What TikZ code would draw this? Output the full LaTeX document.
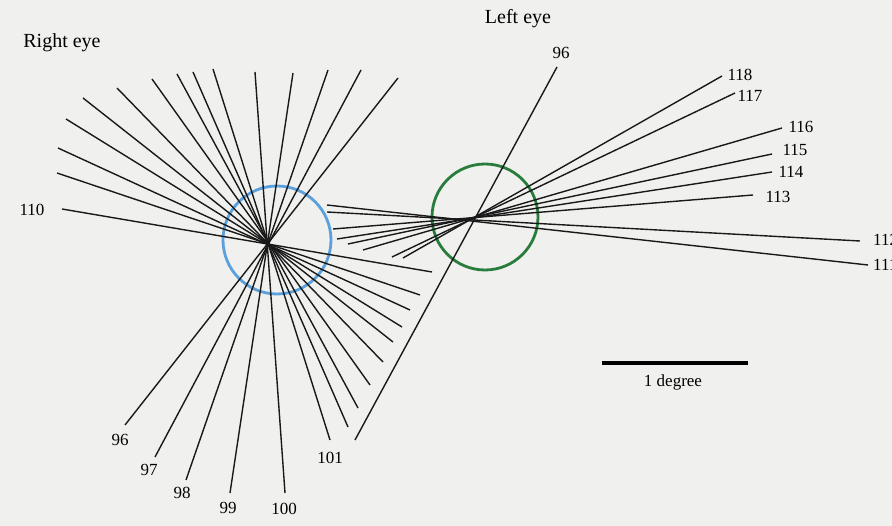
\documentclass[tikz,border=0pt]{standalone}
\usepackage{fontspec}
\setmainfont{Liberation Serif}
\definecolor{paper}{RGB}{240,240,238}
\definecolor{rblue}{RGB}{90,160,220}
\definecolor{lgreen}{RGB}{40,125,60}
\begin{document}
\begin{tikzpicture}[x=1pt,y=-1pt,
  ray/.style={draw=black!90,line width=1.4pt},
  eyecirc/.style={line width=2.8pt},
  num/.style={font=\fontsize{17}{19}\selectfont,inner sep=0pt},
  title/.style={font=\fontsize{20}{23}\selectfont,inner sep=0pt}]
\fill[paper] (0,0) rectangle (892,526);
\useasboundingbox (0,0) rectangle (892,526);
% circles
\draw[eyecirc,rblue] (277,240) circle[radius=54];
\draw[eyecirc,lgreen] (485,217) circle[radius=53];
% right eye ray end points (upper, lower)
\coordinate (u96) at (398,78);  \coordinate (d96) at (125,425);
\coordinate (u97) at (361,70);  \coordinate (d97) at (155,457);
\coordinate (u98) at (328,70);  \coordinate (d98) at (186,480);
\coordinate (u99) at (293,73);  \coordinate (d99) at (230,493);
\coordinate (u100) at (255,72); \coordinate (d100) at (285,493);
\coordinate (u101) at (213,69); \coordinate (d101) at (330,440);
\coordinate (u102) at (193,72); \coordinate (d102) at (348,427);
\coordinate (u103) at (177,74); \coordinate (d103) at (358,408);
\coordinate (u104) at (152,79); \coordinate (d104) at (370,385);
\coordinate (u105) at (117,88); \coordinate (d105) at (383,362);
\coordinate (u106) at (83,98);  \coordinate (d106) at (393,342);
\coordinate (u107) at (66,119); \coordinate (d107) at (402,327);
\coordinate (u108) at (58,148); \coordinate (d108) at (410,310);
\coordinate (u109) at (57,173); \coordinate (d109) at (420,295);
\coordinate (u110) at (62,209); \coordinate (d110) at (432,272);
\foreach \i in {96,...,110} {\draw[ray] (u\i) -- (d\i);}
% left eye rays
\coordinate (a96) at (557,67);  \coordinate (b96) at (355,440);
\coordinate (a111) at (868,265); \coordinate (b111) at (327,205);
\coordinate (a112) at (860,241); \coordinate (b112) at (327,212);
\coordinate (a113) at (753,195); \coordinate (b113) at (333,229);
\coordinate (a114) at (772,172); \coordinate (b114) at (337,239);
\coordinate (a115) at (772,154); \coordinate (b115) at (348,244);
\coordinate (a116) at (782,128); \coordinate (b116) at (363,250);
\coordinate (a117) at (735,93);  \coordinate (b117) at (392,257);
\coordinate (a118) at (722,76);  \coordinate (b118) at (403,258);
\foreach \i in {96,111,112,113,114,115,116,117,118} {\draw[ray] (a\i) -- (b\i);}
% labels
\node[title] (rt) at (62,43) {Right eye};
\node[title] (lt) at (518,19) {Left eye};
\node[num] (l110) at (32,210) {110};
\node[num] (l96r) at (120,440) {96};
\node[num] (l97) at (149,470) {97};
\node[num] (l98) at (182,493) {98};
\node[num] (l99) at (228,508) {99};
\node[num] (l100) at (284,509) {100};
\node[num] (l101) at (330,458) {101};
\node[num] (l96l) at (561,53) {96};
\node[num] (l118) at (740,75) {118};
\node[num] (l117) at (750,96) {117};
\node[num] (l116) at (801,127) {116};
\node[num] (l115) at (795,150) {115};
\node[num] (l114) at (791,172) {114};
\node[num] (l113) at (778,197) {113};
\node[num,anchor=west] (l112) at (873,240) {112};
\node[num,anchor=west] (l111) at (873,265) {111};
% scale bar
\coordinate (sb1) at (602,363);
\coordinate (sb2) at (748,363);
\draw[line width=3.5pt] (sb1) -- (sb2);
\node[num] (deg) at (673,382) {1 degree};
\end{tikzpicture}
\end{document}
